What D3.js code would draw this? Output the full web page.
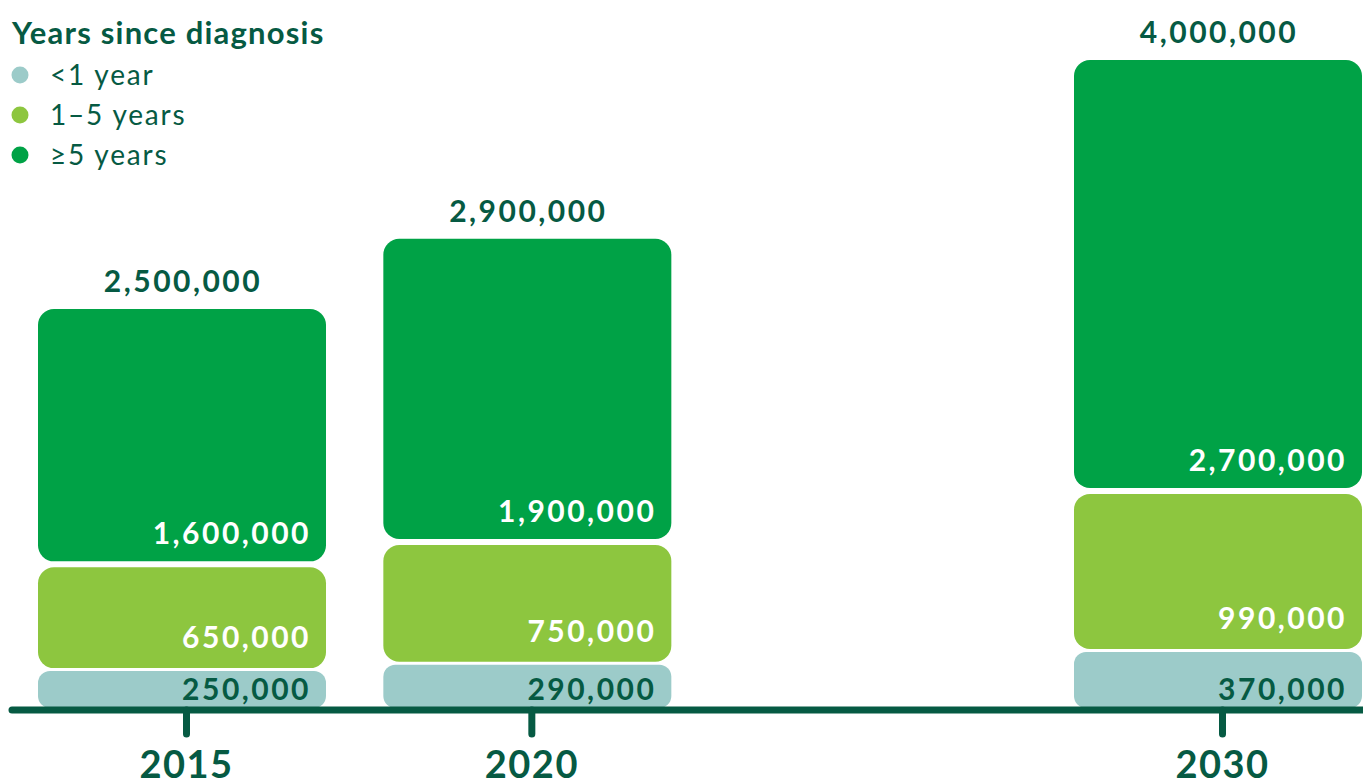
<!DOCTYPE html>
<html>
<head>
<meta charset="utf-8">
<script src="https://cdn.jsdelivr.net/npm/d3@7"></script>
<style>
  body { margin: 0; background: #fff; }
  svg { display: block; font-family: Lato, "Open Sans", sans-serif; }
</style>
</head>
<body>
<div id="chart"></div>
<script>
// data
const years = [2015, 2020, 2030];
const lessThanOne = [250000, 290000, 370000];
const oneToFive = [650000, 750000, 990000];
const fivePlus = [1600000, 1900000, 2700000];
const totals = [2500000, 2900000, 4000000];
const seriesNames = ["<1 year", "1\u20135 years", "\u22655 years"];
const legendTitle = "Years since diagnosis";

// constants
const W = 1363, H = 779;
const baseY = 708;
const barW = 288;
const gap = 3;
const colors = ["#9ccbc9", "#8dc63f", "#00a246"];
const dark = "#065a43";
const fmt = d3.format(",");

const svg = d3.select("#chart").append("svg")
  .attr("width", W).attr("height", H);

const rows = years.map((yr, i) => ({ year: yr, a: lessThanOne[i], b: oneToFive[i], c: fivePlus[i], total: totals[i] }));
const stack = d3.stack().keys(["a", "b", "c"])(rows);

const x = d3.scaleLinear().domain([2015, 2030]).range([186, 1222]);
const y = d3.scaleLinear()
  .domain([0, d3.max(rows, d => d.a + d.b + d.c)])
  .range([baseY, 60]);

const cx = yr => x(yr) - 4;

// bars
stack.forEach((layer, li) => {
  const g = svg.append("g");
  g.selectAll("rect").data(layer).enter().append("rect")
    .attr("x", d => cx(d.data.year) - barW / 2)
    .attr("width", barW)
    .attr("y", d => y(d[1]) + (li < 2 ? gap : 0))
    .attr("height", d => y(d[0]) - y(d[1]) - gap)
    .attr("rx", li === 0 ? 12 : 16)
    .attr("fill", colors[li]);

  g.selectAll("text").data(layer).enter().append("text")
    .attr("x", d => cx(d.data.year) + barW / 2 - 15)
    .attr("y", d => y(d[0]) - (li === 0 ? 8 : 20))
    .attr("text-anchor", "end")
    .attr("font-size", 30)
    .attr("font-weight", 700)
    .attr("letter-spacing", 2.5)
    .attr("fill", li === 0 ? dark : "#fff")
    .text(d => fmt(d[1] - d[0]));
});

// totals
svg.append("g").selectAll("text").data(rows).enter().append("text")
  .attr("x", d => cx(d.year) + 1)
  .attr("y", d => y(d.a + d.b + d.c) - 17)
  .attr("text-anchor", "middle")
  .attr("font-size", 30)
  .attr("font-weight", 700)
  .attr("letter-spacing", 2.5)
  .attr("fill", dark)
  .text(d => fmt(d.total));

// axis
const axis = d3.axisBottom(x).tickValues(years).tickFormat(d3.format("d")).tickSize(24).tickPadding(17);
const ax = svg.append("g").attr("transform", `translate(0,${baseY + 2})`).call(axis);
ax.select(".domain").remove();
ax.insert("line", ":first-child")
  .attr("x1", 12).attr("x2", W + 10)
  .attr("stroke", dark).attr("stroke-width", 7).attr("stroke-linecap", "round");
ax.selectAll(".tick line").attr("stroke", dark).attr("stroke-width", 7).attr("stroke-linecap", "round");
ax.selectAll(".tick text")
  .attr("fill", dark)
  .attr("font-size", 38)
  .attr("font-weight", 700)
  .attr("letter-spacing", 1.5)
  .attr("font-family", "Lato, sans-serif");

// legend
const leg = svg.append("g");
leg.append("text")
  .attr("x", 12).attr("y", 44)
  .attr("font-size", 31).attr("font-weight", 700).attr("fill", dark)
  .attr("letter-spacing", 1.2)
  .text(legendTitle);
const items = leg.selectAll("g.item").data(seriesNames).enter().append("g")
  .attr("transform", (d, i) => `translate(0,${75 + i * 40})`);
items.append("circle").attr("cx", 20).attr("cy", 0).attr("r", 8.5).attr("fill", (d, i) => colors[i]);
items.append("text").attr("x", 50).attr("y", 10)
  .attr("font-size", 28).attr("fill", dark)
  .attr("letter-spacing", 1.8)
  .text(d => d);
</script>
</body>
</html>
